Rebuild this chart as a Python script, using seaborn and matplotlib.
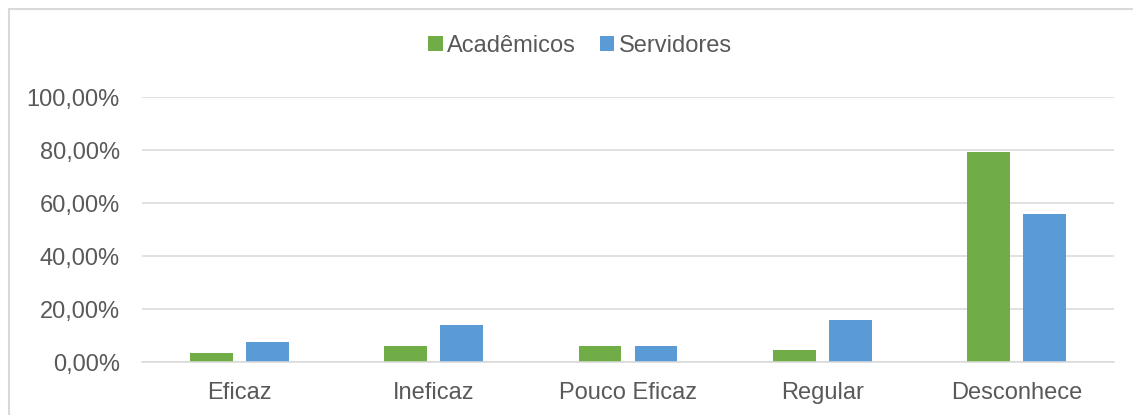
import pandas as pd
import matplotlib
matplotlib.use("Agg")
import matplotlib.pyplot as plt
from matplotlib.patches import Rectangle
from matplotlib.ticker import FuncFormatter
import seaborn as sns

categorias = ["Eficaz", "Ineficaz", "Pouco Eficaz", "Regular", "Desconhece"]
academicos = [3.4, 5.9, 5.9, 4.6, 79.3]
servidores = [7.7, 14.1, 5.9, 15.7, 56.0]
grupos = ["Acadêmicos", "Servidores"]
cores = ["#70AD47", "#5B9BD5"]

df = pd.DataFrame({
    "categoria": categorias * 2,
    "valor": academicos + servidores,
    "grupo": [grupos[0]] * len(categorias) + [grupos[1]] * len(categorias),
})

sns.set_style("white")
plt.rcParams["font.family"] = ["Liberation Sans", "DejaVu Sans"]

fig = plt.figure(figsize=(11.33, 4.15), dpi=100)
ax = fig.add_axes([0.1253, 0.1277, 0.858, 0.6385])

sns.barplot(data=df, x="categoria", y="valor", hue="grupo", palette=cores,
            width=0.576, gap=0.233, ax=ax, legend=True, saturation=1,
            linewidth=0)

ax.set_ylim(0, 100)
ax.set_xlim(-0.5, len(categorias) - 0.5)
ax.set_yticks([0, 20, 40, 60, 80, 100])
ax.yaxis.set_major_formatter(FuncFormatter(lambda v, p: f"{v:.2f}%".replace(".", ",")))
ax.grid(axis="y", color="#D9D9D9", linewidth=1.1)
ax.set_axisbelow(True)
for s in ["top", "right", "left"]:
    ax.spines[s].set_visible(False)
ax.spines["bottom"].set_color("#D9D9D9")
ax.spines["bottom"].set_linewidth(1.1)
ax.tick_params(axis="both", length=0, labelsize=17, colors="#595959")
ax.tick_params(axis="y", pad=16)
ax.tick_params(axis="x", pad=14.5)
ax.set_xlabel("")
ax.set_ylabel("")

handles, labels = ax.get_legend_handles_labels()
ax.get_legend().remove()
fig.legend(handles, labels, loc="center", bbox_to_anchor=(0.512, 0.889), ncol=2,
           frameon=False, fontsize=17, labelcolor="#595959", handlelength=0.6,
           handleheight=0.6, handletextpad=0.2, columnspacing=1.0)

fig.patches.append(Rectangle((9 / 1133, -0.1), 1.2, 1.1 - 9 / 415 + 0.001,
                             transform=fig.transFigure, fill=False,
                             edgecolor="#D9D9D9", linewidth=1.5, zorder=0))

fig.savefig("out.png", dpi=100)
